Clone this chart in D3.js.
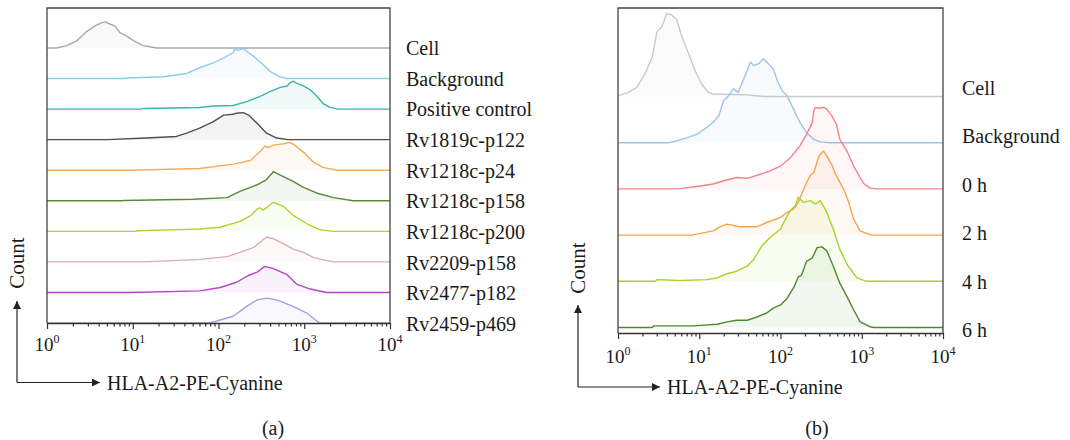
<!DOCTYPE html>
<html>
<head>
<meta charset="utf-8">
<script src="https://cdn.jsdelivr.net/npm/d3@7"></script>
<style>
  body { margin: 0; background: #fff; }
  svg { font-family: "Liberation Serif", "Times New Roman", serif; }
</style>
</head>
<body>
<div id="chart"></div>
<script>
// ---- panel (a): peptide samples ----
const namesA = ['Cell', 'Background', 'Positive control', 'Rv1819c-p122', 'Rv1218c-p24',
  'Rv1218c-p158', 'Rv1218c-p200', 'Rv2209-p158', 'Rv2477-p182', 'Rv2459-p469'];
const colorsA = ['#a9a9a9', '#8dcde9', '#3cb4ae', '#4f4f4f', '#f6ac5c',
  '#5a8936', '#acd531', '#dcadb0', '#b446c6', '#a69ddf'];
// modal count of each histogram (relative)
const peakA = [87, 100, 93, 90, 93, 97, 97, 83, 87, 83];

// log10 fluorescence (decades) and count (% of mode)
const a_cell_e = [0.11, 0.23, 0.35, 0.46, 0.56, 0.64, 0.68, 0.74, 0.79, 0.85, 0.91, 1.01, 1.12, 1.28];
const a_cell_c = [0, 9, 28, 63, 85, 97, 100, 91, 85, 59, 49, 28, 9, 0];
const a_bg_e = [0.90, 0.93, 1.36, 1.63, 1.78, 1.94, 2.06, 2.17, 2.19, 2.23, 2.29, 2.33, 2.41, 2.52, 2.60, 2.70, 2.80];
const a_bg_c = [0, 2, 6, 17, 36, 52, 69, 86, 99, 94, 100, 91, 74, 47, 24, 8, 0];
const a_pos_e = [1.10, 1.12, 1.78, 1.94, 2.17, 2.33, 2.48, 2.60, 2.72, 2.80, 2.83, 2.87, 2.91, 2.99, 3.07, 3.15, 3.22, 3.30, 3.40];
const a_pos_c = [0, 2, 6, 11, 13, 27, 45, 63, 78, 83, 93, 100, 93, 83, 69, 45, 20, 6, 0];
const a_r1819_e = [0.70, 1.09, 1.51, 1.63, 1.78, 1.94, 2.06, 2.17, 2.21, 2.29, 2.35, 2.45, 2.56, 2.68, 2.81];
const a_r1819_c = [0, 5, 12, 24, 43, 67, 91, 94, 98, 100, 91, 61, 24, 6, 0];
const a_p24_e = [1.03, 1.05, 1.78, 2.17, 2.37, 2.48, 2.54, 2.58, 2.64, 2.76, 2.83, 2.89, 2.99, 3.11, 3.22, 3.38];
const a_p24_c = [0, 1, 6, 22, 35, 65, 86, 80, 90, 95, 100, 90, 65, 28, 10, 0];
const a_p158_e = [0.87, 0.89, 1.71, 2.10, 2.25, 2.45, 2.56, 2.64, 2.72, 2.87, 2.99, 3.15, 3.34, 3.57];
const a_p158_c = [0, 1, 5, 11, 32, 55, 73, 100, 88, 67, 46, 26, 11, 0];
const a_p200_e = [1.03, 1.05, 1.43, 1.78, 2.02, 2.25, 2.37, 2.45, 2.48, 2.52, 2.56, 2.64, 2.76, 2.87, 3.03, 3.18, 3.34];
const a_p200_c = [0, 2, 5, 8, 14, 34, 53, 76, 81, 73, 81, 100, 85, 55, 26, 6, 0];
const a_r2209_e = [1.12, 1.78, 2.10, 2.25, 2.41, 2.52, 2.56, 2.64, 2.76, 2.87, 2.99, 3.11, 3.34];
const a_r2209_c = [0, 10, 21, 38, 58, 89, 100, 93, 72, 51, 38, 17, 0];
const a_r2477_e = [0.97, 1.78, 2.02, 2.21, 2.35, 2.45, 2.54, 2.64, 2.80, 2.91, 3.07, 3.26];
const a_r2477_c = [0, 6, 19, 39, 65, 78, 100, 91, 68, 32, 13, 0];
const a_r2459_e = [1.90, 2.17, 2.33, 2.45, 2.56, 2.68, 2.87, 3.03, 3.15, 3.18];
const a_r2459_c = [0, 27, 67, 93, 100, 93, 67, 40, 7, 0];

// ---- panel (b): time course ----
const namesB = ['Cell', 'Background', '0 h', '2 h', '4 h', '6 h'];
const colorsB = ['#c9c9c9', '#9fc5ec', '#f6818c', '#f7a34d', '#a5d42b', '#4c8a2b'];
const peakB = [99, 100, 97, 100, 100, 96];

const b_cell_e = [0.0, 0.11, 0.23, 0.33, 0.42, 0.48, 0.54, 0.60, 0.66, 0.72, 0.78, 0.87, 0.95, 1.03, 1.11, 1.17, 1.59, 1.80];
const b_cell_c = [1, 4, 11, 27, 47, 78, 84, 100, 98, 93, 74, 51, 31, 15, 5, 3, 2, 0];
const b_bg_e = [0.62, 0.72, 0.85, 0.97, 1.09, 1.17, 1.24, 1.30, 1.36, 1.42, 1.48, 1.54, 1.59, 1.63, 1.67, 1.73,
  1.79, 1.85, 1.91, 1.97, 2.02, 2.08, 2.16, 2.24, 2.32, 2.41, 2.49, 2.60];
const b_bg_c = [0, 2, 6, 10, 18, 24, 32, 50, 56, 64, 60, 74, 86, 96, 92, 94, 100, 94, 88, 72, 62, 56, 40, 24, 12, 4, 1, 0];
const b_0h_e = [0.74, 0.97, 1.17, 1.30, 1.46, 1.59, 1.75, 1.87, 2.00, 2.12, 2.24, 2.32, 2.39, 2.41, 2.43, 2.47,
  2.53, 2.57, 2.63, 2.69, 2.73, 2.82, 2.90, 2.98, 3.02, 3.10, 3.19];
const b_0h_c = [0, 3, 6, 10, 14, 13, 18, 22, 28, 38, 53, 67, 81, 96, 100, 99, 100, 98, 90, 79, 61, 46, 28, 14, 7, 1, 0];
const b_2h_e = [0.91, 1.17, 1.26, 1.34, 1.50, 1.71, 1.83, 2.00, 2.08, 2.16, 2.22, 2.26, 2.32, 2.37, 2.41, 2.47,
  2.53, 2.57, 2.63, 2.67, 2.78, 2.84, 2.90, 2.98, 3.12];
const b_2h_c = [0, 5, 10, 13, 10, 10, 15, 21, 27, 31, 39, 49, 62, 72, 74, 94, 100, 94, 84, 74, 54, 39, 19, 5, 0];
const b_4h_e = [0.45, 0.48, 0.76, 1.09, 1.22, 1.34, 1.46, 1.59, 1.67, 1.77, 1.89, 2.00, 2.06, 2.12, 2.18, 2.22,
  2.28, 2.37, 2.43, 2.49, 2.57, 2.65, 2.73, 2.82, 2.94, 3.06];
const b_4h_c = [0, 2, 1, 2, 4, 9, 12, 18, 26, 42, 54, 62, 74, 84, 90, 100, 94, 96, 92, 96, 82, 62, 38, 20, 4, 0];
const b_6h_e = [0.42, 0.44, 0.93, 1.05, 1.22, 1.34, 1.46, 1.59, 1.71, 1.83, 1.91, 2.00, 2.08, 2.16, 2.22, 2.26,
  2.32, 2.39, 2.45, 2.51, 2.57, 2.65, 2.73, 2.82, 2.90, 2.98, 3.10, 3.15];
const b_6h_c = [0, 2, 2, 3, 4, 7, 9, 9, 13, 18, 24, 28, 36, 49, 63, 65, 82, 86, 99, 100, 95, 76, 55, 38, 22, 7, 1, 0];

const seriesA = [[a_cell_e, a_cell_c], [a_bg_e, a_bg_c], [a_pos_e, a_pos_c], [a_r1819_e, a_r1819_c],
  [a_p24_e, a_p24_c], [a_p158_e, a_p158_c], [a_p200_e, a_p200_c], [a_r2209_e, a_r2209_c],
  [a_r2477_e, a_r2477_c], [a_r2459_e, a_r2459_c]];
const seriesB = [[b_cell_e, b_cell_c], [b_bg_e, b_bg_c], [b_0h_e, b_0h_c], [b_2h_e, b_2h_c],
  [b_4h_e, b_4h_c], [b_6h_e, b_6h_c]];

const xTitle = 'HLA-A2-PE-Cyanine';
const yTitle = 'Count';

const svg = d3.select('#chart').append('svg')
  .attr('width', 1070)
  .attr('height', 440);

const defs = svg.append('defs');
defs.append('marker')
  .attr('id', 'arrow')
  .attr('viewBox', '0 0 10 10')
  .attr('refX', 10).attr('refY', 5)
  .attr('markerWidth', 9).attr('markerHeight', 8)
  .attr('markerUnits', 'userSpaceOnUse')
  .attr('orient', 'auto')
  .append('path')
  .attr('d', 'M0,0L10,5L0,10Z')
  .attr('fill', '#222');

function drawPanel(p) {
  const x = d3.scaleLog().domain([1, 1e4]).range([p.left, p.right]);
  const ridge = d3.scalePoint().domain(p.names).range(p.ridgeRange);
  const labelY = d3.scalePoint().domain(p.names).range(p.labelRange);
  const h = d3.scaleLinear().domain([0, 100]).range([0, p.ridgeHeight]);

  const g = svg.append('g');
  defs.append('clipPath').attr('id', 'clip-' + p.tag)
    .append('rect')
    .attr('x', p.left).attr('y', p.top)
    .attr('width', p.right - p.left).attr('height', p.bottom - p.top);
  const plot = g.append('g').attr('clip-path', `url(#clip-${p.tag})`);

  p.names.forEach((name, i) => {
    const [es, cs] = p.series[i];
    const pts = [{ v: 1, c: 0 }]
      .concat(es.map((e, j) => ({ v: Math.pow(10, e), c: cs[j] * p.peaks[i] / 100 })))
      .concat([{ v: 1e4, c: 0 }]);
    const base = ridge(name);
    const area = d3.area().x(d => x(d.v)).y0(base).y1(d => base - h(d.c));
    const line = d3.line().x(d => x(d.v)).y(d => base - h(d.c));

    plot.append('path')
      .attr('d', area(pts))
      .attr('fill', p.colors[i])
      .attr('fill-opacity', 0.07);
    plot.append('path')
      .attr('d', line(pts))
      .attr('fill', 'none')
      .attr('stroke', p.colors[i])
      .attr('stroke-width', 1.4)
      .attr('stroke-linejoin', 'round');

    g.append('text')
      .attr('x', p.labelX)
      .attr('y', labelY(name))
      .attr('dominant-baseline', 'central')
      .attr('font-size', 20)
      .attr('fill', '#1a1a1a')
      .text(name);
  });

  // frame (left, top, right)
  g.append('path')
    .attr('d', `M${p.left},${p.bottom}V${p.top}H${p.right}V${p.bottom}`)
    .attr('fill', 'none')
    .attr('stroke', '#444')
    .attr('stroke-width', 1.3);

  // log axis with minor ticks
  const isDecade = d => Math.abs(Math.log10(d) - Math.round(Math.log10(d))) < 1e-9;
  const ax = g.append('g')
    .attr('transform', `translate(0,${p.bottom})`)
    .call(d3.axisBottom(x).tickSizeOuter(0).tickFormat(''));
  ax.select('.domain').attr('stroke', '#333').attr('stroke-width', 1.5);
  ax.selectAll('.tick line')
    .attr('stroke', '#333')
    .attr('stroke-width', 1.2)
    .attr('y2', d => isDecade(d) ? 6 : 3.5);

  const decades = x.ticks().filter(isDecade);
  decades.forEach(d => {
    const t = g.append('text')
      .attr('x', x(d))
      .attr('y', p.bottom + p.tickDy)
      .attr('text-anchor', 'middle')
      .attr('font-size', 19)
      .attr('fill', '#1a1a1a');
    t.append('tspan').text('10');
    t.append('tspan').attr('dy', -8).attr('font-size', 12).text(Math.round(Math.log10(d)));
  });

  // axis arrows
  const [cx, cy] = p.corner;
  g.append('line')
    .attr('x1', cx).attr('y1', cy).attr('x2', p.arrowX).attr('y2', cy)
    .attr('stroke', '#222').attr('stroke-width', 1.2)
    .attr('marker-end', 'url(#arrow)');
  g.append('line')
    .attr('x1', cx).attr('y1', cy).attr('x2', cx).attr('y2', p.arrowY)
    .attr('stroke', '#222').attr('stroke-width', 1.2)
    .attr('marker-end', 'url(#arrow)');
  g.append('text')
    .attr('x', p.arrowX + 7)
    .attr('y', cy)
    .attr('dominant-baseline', 'central')
    .attr('font-size', 20)
    .attr('fill', '#1a1a1a')
    .text(xTitle);
  g.append('text')
    .attr('transform', `translate(${cx},${p.countY}) rotate(-90)`)
    .attr('text-anchor', 'middle')
    .attr('dominant-baseline', 'central')
    .attr('font-size', 21)
    .attr('fill', '#1a1a1a')
    .text(yTitle);

  g.append('text')
    .attr('x', p.tagX)
    .attr('y', 428)
    .attr('text-anchor', 'middle')
    .attr('dominant-baseline', 'central')
    .attr('font-size', 20)
    .attr('fill', '#1a1a1a')
    .text(`(${p.tag})`);
}

drawPanel({
  tag: 'a', names: namesA, colors: colorsA, peaks: peakA, series: seriesA,
  left: 47, right: 390, top: 8, bottom: 323,
  ridgeRange: [48, 323], ridgeHeight: 30, labelX: 406, labelRange: [48, 324],
  tickDy: 28, corner: [17, 382.5], arrowX: 100, arrowY: 301, countY: 263, tagX: 273
});

drawPanel({
  tag: 'b', names: namesB, colors: colorsB, peaks: peakB, series: seriesB,
  left: 618, right: 943, top: 8, bottom: 333,
  ridgeRange: [96.5, 327.5], ridgeHeight: 84, labelX: 962, labelRange: [88, 330],
  tickDy: 30, corner: [578, 387], arrowX: 660, arrowY: 305, countY: 268, tagX: 817
});
</script>
</body>
</html>
